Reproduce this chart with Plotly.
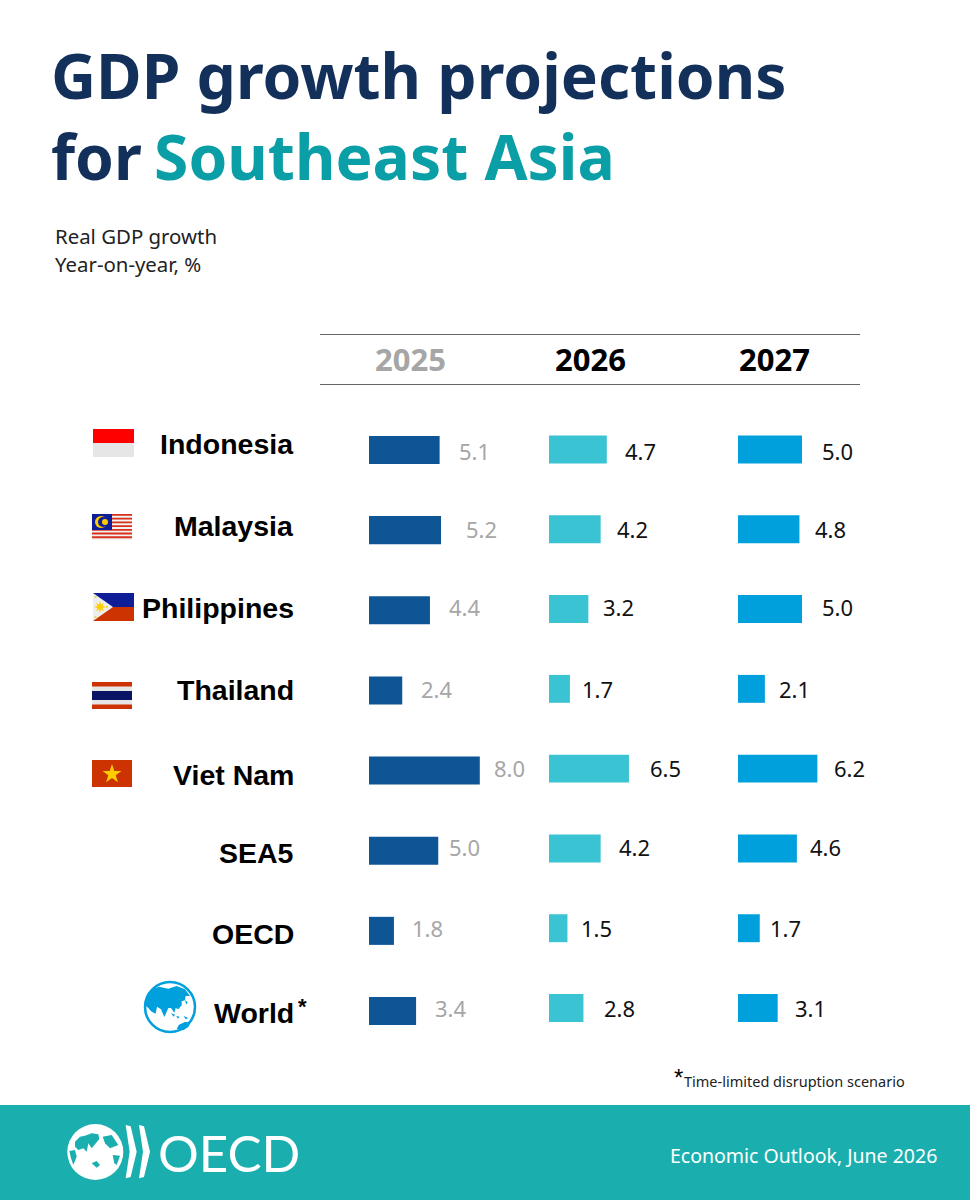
import plotly.graph_objects as go

# Real GDP growth, year-on-year %
countries = ['Indonesia', 'Malaysia', 'Philippines', 'Thailand', 'Viet Nam', 'SEA5', 'OECD', 'World']
years = ['2025', '2026', '2027']
growth_2025 = [5.1, 5.2, 4.4, 2.4, 8.0, 5.0, 1.8, 3.4]
growth_2026 = [4.7, 4.2, 3.2, 1.7, 6.5, 4.2, 1.5, 2.8]
growth_2027 = [5.0, 4.8, 5.0, 2.1, 6.2, 4.6, 1.7, 3.1]

W, H = 970, 1200
NAVY = '#12305a'
TEAL = '#0a9ea6'
BAND = '#1aafae'
BLUE = '#00a0dc'
RED = '#cc3300'
GOLD = '#ffcc00'

# gap between bar end and its value label, px
GAPS = {
    '2025': [17, 23, 17, 17, 12, 9, 16, 17],
    '2026': [16, 14, 13, 10, 19, 16, 12, 19],
    '2027': [18, 14, 18, 12, 15, 11, 8, 15],
}
# value labels do not sit exactly on the bar centres in the original
LABEL_ROWS = [451, 529, 607, 689, 768, 847, 928, 1008]
# left edge px, px per unit, first and last row centre px, bar colour, label colour
COLUMNS = {
    '2025': dict(x0=369, scale=13.85, top=450, bottom=1011, colour='#0e5596', text='#a6a6a6'),
    '2026': dict(x0=549, scale=12.3, top=449.5, bottom=1008, colour='#3ac3d2', text='#111111'),
    '2027': dict(x0=738, scale=12.8, top=449.5, bottom=1008, colour=BLUE, text='#111111'),
}


def px(x):
    return x / W


def py(y):
    return 1 - y / H


def rect(x0, y0, x1, y1, colour):
    return dict(type='rect', xref='paper', yref='paper', x0=px(x0), x1=px(x1), y0=py(y0), y1=py(y1),
                fillcolor=colour, line_width=0, layer='above')


def blob(points, colour):
    d = 'M ' + ' L '.join(f'{px(x):.5f},{py(y):.5f}' for x, y in points) + ' Z'
    return dict(type='path', xref='paper', yref='paper', path=d, fillcolor=colour, line_width=0, layer='above')


def disc(cx, cy, r, colour, line=None, width=0):
    return dict(type='circle', xref='paper', yref='paper', x0=px(cx - r), x1=px(cx + r),
                y0=py(cy + r), y1=py(cy - r), fillcolor=colour,
                line=dict(color=line or colour, width=width), layer='above')


def text(x, y, s, size, colour, family='Noto Sans', anchor='left'):
    return dict(xref='paper', yref='paper', x=px(x), y=py(y), text=s, showarrow=False,
                xanchor=anchor, yanchor='middle', align=anchor,
                font=dict(family=family, size=size, color=colour))


def zoomed(points, ox, oy):
    # outlines below were traced on 3x crops of the logo
    return [(ox + x / 3, oy + y / 3) for x, y in points]


fig = go.Figure()
annotations = []
shapes = []
series = [growth_2025, growth_2026, growth_2027]

for i, year in enumerate(years):
    col = COLUMNS[year]
    axis = '' if i == 0 else str(i + 1)
    fig.add_trace(go.Bar(x=series[i], y=list(range(8)), orientation='h', width=0.35,
                         marker=dict(color=col['colour'], line_width=0), hovertext=countries,
                         xaxis='x' + axis, yaxis='y' + axis, showlegend=False))
    pad = (col['bottom'] - col['top']) / 14
    fig.update_layout({
        f'xaxis{axis}': dict(domain=[px(col['x0']), px(col['x0'] + 200)], range=[0, 200 / col['scale']],
                             visible=False, anchor='y' + axis),
        f'yaxis{axis}': dict(domain=[py(col['bottom'] + pad), py(col['top'] - pad)],
                             range=[7.5, -0.5], visible=False, anchor='x' + axis),
    })
    for row, value in enumerate(series[i]):
        annotations.append(dict(x=value, y=py(LABEL_ROWS[row]), xref='x' + axis, yref='paper', text=f'{value:.1f}',
                                showarrow=False, xanchor='left', yanchor='middle', xshift=GAPS[year][row],
                                font=dict(family='Noto Sans', size=22, color=col['text'])))

# title and subtitle
title = ('<b>GDP growth projections<br>for<span style="letter-spacing:-4px"> </span>'
         '<span style="color:%s">Southeast Asia</span></b>' % TEAL)
annotations += [
    text(49, 115, title, 62.3, NAVY),
    text(53, 236, 'Real GDP growth', 20.4, '#222222'),
    text(53, 264, 'Year-on-year, %', 20.4, '#222222'),
    text(410, 359, '<b>2025</b>', 31, '#a6a6a6', anchor='center'),
    text(590, 359, '<b>2026</b>', 31, '#000000', anchor='center'),
    text(774, 359, '<b>2027</b>', 31, '#000000', anchor='center'),
]

# row labels
label_y = [444, 526, 608, 690, 775, 853, 934, 1013]
for name, y in zip(countries, label_y):
    annotations.append(text(296, y, f'<b>{name}</b>', 28.5, '#000000', family='Liberation Sans', anchor='right'))
annotations.append(text(296, 1007, '<b>*</b>', 22, '#000000', family='Liberation Sans'))

# footnote and footer
annotations += [
    text(672, 1077, '*', 24, '#000000', family='Liberation Sans'),
    text(682, 1081, 'Time-limited disruption scenario', 14.5, '#222222'),
    text(939, 1155, 'Economic Outlook, June 2026', 19.5, '#ffffff', anchor='right'),
    text(156, 1152, 'OECD', 51, '#ffffff', family='Lato'),
]

# header rules and footer band
shapes += [
    rect(320, 334, 860, 335, '#666666'),
    rect(320, 384, 860, 385, '#666666'),
    rect(0, 1105, W, 1200, BAND),
]

# Indonesia
shapes += [rect(93, 429, 134, 443, '#ff0000'), rect(93, 443, 134, 457, '#e6e6e6')]

# Malaysia
shapes.append(rect(92, 514, 132, 540, '#f2f2f2'))
for k in range(7):
    shapes.append(rect(92, 514 + k * 3.72, 132, 514 + k * 3.72 + 1.86, '#d8301c'))
shapes += [
    rect(92, 514, 112, 530, '#0f1e96'),
    disc(101, 522, 6, '#ffcc00'),
    disc(103, 522, 5, '#0f1e96'),
    disc(105, 522, 3, '#ffcc00'),
]

# Philippines
sun = [(100, 601), (101, 604.5), (104, 603), (102.5, 606), (106, 607), (102.5, 608), (104, 611),
       (101, 609.5), (100, 613), (99, 609.5), (96, 611), (97.5, 608), (94, 607), (97.5, 606),
       (96, 603), (99, 604.5)]
shapes += [
    rect(93, 593, 134, 607, '#0f1e96'),
    rect(93, 607, 134, 621, RED),
    blob([(93, 593), (113, 607), (93, 621)], '#eeeeee'),
    blob(sun, GOLD),
    disc(95.5, 597, 1, GOLD),
    disc(95.5, 617, 1, GOLD),
    disc(107, 607, 1, GOLD),
]

# Thailand
shapes += [
    rect(92, 682, 132, 709, '#e6e6e6'),
    rect(92, 682, 132, 686.5, RED),
    rect(92, 691, 132, 700, '#0a1464'),
    rect(92, 704.5, 132, 709, RED),
]

# Viet Nam
star = [(112, 764), (114.3, 771), (121.5, 771), (115.7, 775.3), (117.9, 782.2),
        (112, 778), (106.1, 782.2), (108.3, 775.3), (102.5, 771), (109.7, 771)]
shapes += [rect(92, 760, 132, 787, RED), blob(star, GOLD)]

# World globe
world_land = [
    [(30, 100), (35, 75), (50, 52), (72, 44), (100, 50), (125, 42), (150, 52), (165, 72), (152, 72), (150, 85),
     (140, 88), (140, 100), (130, 112), (122, 108), (118, 122), (108, 108), (100, 108), (88, 135), (78, 112),
     (66, 104), (62, 125), (48, 118), (40, 108)],
    [(150, 85), (158, 90), (154, 98)],
    [(108, 124), (120, 128), (116, 134)],
    [(124, 132), (134, 134), (128, 140)],
    [(146, 132), (160, 138), (152, 142)],
    [(125, 170), (132, 158), (150, 150), (168, 150), (160, 165), (145, 175)],
]
shapes.append(disc(170, 1007, 25, '#ffffff', line=BLUE, width=2.5))
for land in world_land:
    shapes.append(blob(zoomed(land, 135, 972), BLUE))

# OECD logo mark
logo_land = [
    [(45, 80), (60, 65), (75, 62), (95, 55), (115, 58), (118, 72), (105, 88), (95, 100), (85, 85), (80, 110),
     (70, 100), (55, 105), (45, 95)],
    [(28, 108), (45, 105), (50, 125), (40, 150), (33, 130)],
    [(95, 145), (110, 138), (120, 150), (110, 158)],
    [(128, 65), (155, 60), (175, 90), (150, 100), (135, 85)],
    [(158, 120), (180, 122), (170, 150), (163, 145)],
]
shapes.append(disc(95.3, 1152, 28, '#ffffff'))
for land in logo_land:
    shapes.append(blob(zoomed(land, 60, 1115), BAND))
chevron = [(197, 30), (212, 34), (230, 110), (212, 186), (197, 190), (209, 110)]
shapes.append(blob(zoomed(chevron, 60, 1115), '#ffffff'))
shapes.append(blob(zoomed([(x + 40, y) for x, y in chevron], 60, 1115), '#ffffff'))

fig.update_layout(
    width=W, height=H, margin=dict(l=0, r=0, t=0, b=0),
    paper_bgcolor='white', plot_bgcolor='rgba(0,0,0,0)',
    shapes=shapes, annotations=annotations, barmode='overlay',
)
fig.write_html('out.html', config={'displayModeBar': False}, post_script="document.body.style.margin='0';")
